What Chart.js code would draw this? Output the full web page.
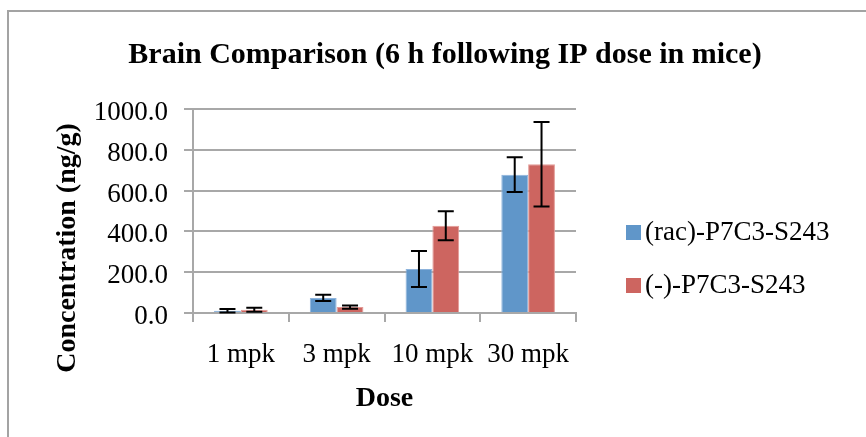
<!DOCTYPE html>
<html>
<head>
<meta charset="utf-8">
<script src="https://cdn.jsdelivr.net/npm/chart.js@4/dist/chart.umd.min.js"></script>
<style>
  html, body { margin: 0; padding: 0; overflow: hidden; background: #fff; }
  #wrap { position: relative; width: 866px; height: 437px; }
  #frame { position: absolute; left: 7px; top: 10px; width: 1000px; height: 1000px;
           border: 2px solid #a3a3a3; pointer-events: none; }
</style>
</head>
<body>
<div id="wrap">
  <canvas id="brainChart" width="866" height="437"></canvas>
  <div id="frame"></div>
</div>
<script>
// values
const doses = ['1 mpk', '3 mpk', '10 mpk', '30 mpk'];
const racValues = [11, 74, 216, 678];
const racErrors = [8, 15, 88, 85];
const negValues = [16, 29, 428, 729];
const negErrors = [10, 8, 71, 207];
const yTicks = [0, 200, 400, 600, 800, 1000];

const chartTitle = 'Brain Comparison (6 h following IP dose in mice)';
const serif = "'Liberation Serif', 'DejaVu Serif', serif";
Chart.defaults.font.family = serif;
Chart.defaults.color = '#000';

// draws the +/- error bars through the y scale
const errorBars = {
    id: 'errorBars',
    afterDatasetsDraw(chart) {
        const ctx = chart.ctx;
        const y = chart.scales.y;
        ctx.save();
        ctx.strokeStyle = '#000';
        ctx.lineWidth = 2;
        chart.data.datasets.forEach((ds, i) => {
            const meta = chart.getDatasetMeta(i);
            meta.data.forEach((bar, j) => {
                const v = ds.data[j], e = ds.errors[j];
                const top = y.getPixelForValue(v + e);
                const bot = y.getPixelForValue(Math.max(v - e, 0));
                const cap = 8;
                ctx.beginPath();
                ctx.moveTo(bar.x, top); ctx.lineTo(bar.x, bot);
                ctx.moveTo(bar.x - cap, top); ctx.lineTo(bar.x + cap, top);
                ctx.moveTo(bar.x - cap, bot); ctx.lineTo(bar.x + cap, bot);
                ctx.stroke();
            });
        });
        ctx.restore();
    }
};

// chart title + y axis title, placed the way Excel does it
const titles = {
    id: 'titles',
    afterDraw(chart) {
        const ctx = chart.ctx;
        ctx.save();
        ctx.fillStyle = '#000';
        ctx.textAlign = 'center';
        ctx.textBaseline = 'middle';
        ctx.font = "bold 30px " + serif;
        ctx.fillText(chartTitle, 445, 55);

        ctx.translate(68, 248);
        ctx.rotate(-Math.PI / 2);
        ctx.font = "bold 28px " + serif;
        ctx.fillText('Concentration (ng/g)', 0, 0);
        ctx.restore();
    }
};

// legend to the right of the plot (built-in one gets squeezed by the layout)
const sideLegend = {
    id: 'sideLegend',
    afterDraw(chart) {
        const ctx = chart.ctx;
        const x0 = chart.chartArea.right + 50;
        ctx.save();
        ctx.font = "27px " + serif;
        ctx.textBaseline = 'middle';
        ctx.textAlign = 'left';
        chart.data.datasets.forEach((ds, i) => {
            const cy = 233 + i * 53;
            ctx.fillStyle = ds.backgroundColor;
            ctx.fillRect(x0, cy - 8, 15, 15);
            ctx.fillStyle = '#000';
            ctx.fillText(ds.label, x0 + 19, cy);
        });
        ctx.restore();
    }
};

const ctx = document.getElementById('brainChart').getContext('2d');
const brainChart = new Chart(ctx, {
    type: 'bar',
    data: {
        labels: doses,
        datasets: [{
            label: '(rac)-P7C3-S243',
            data: racValues,
            errors: racErrors,
            backgroundColor: '#6096C9',
            borderColor: '#8db3dc',
            borderWidth: 1
        }, {
            label: '(-)-P7C3-S243',
            data: negValues,
            errors: negErrors,
            backgroundColor: '#CD6560',
            borderColor: '#e39a96',
            borderWidth: 1
        }]
    },
    options: {
        responsive: false,
        animation: false,
        layout: { padding: { left: 0, right: 290, top: 109, bottom: 24 } },
        datasets: { bar: { categoryPercentage: 0.56, barPercentage: 1.0 } },
        scales: {
            x: {
                grid: { display: true, drawOnChartArea: false, drawTicks: true, tickLength: 9,
                        color: '#a8a8a8', lineWidth: 2 },
                border: { display: true, color: '#a8a8a8', width: 2 },
                ticks: { font: { size: 27 }, padding: 17, maxRotation: 0 },
                title: { display: true, text: 'Dose', font: { size: 28, weight: 'bold', lineHeight: 1.0 },
                         padding: { top: 0, bottom: 0 } },
                afterFit: s => { s.height = 100; }
            },
            y: {
                min: 0,
                max: 1000,
                afterBuildTicks: s => { s.ticks = yTicks.map(v => ({ value: v })); },
                grid: { color: '#a8a8a8', lineWidth: 2, tickLength: 9 },
                border: { display: true, color: '#a8a8a8', width: 2 },
                ticks: { font: { size: 27 }, padding: 16, labelOffset: 4, callback: v => v.toFixed(1) },
                afterFit: s => { s.width = 193; }
            }
        },
        plugins: {
            title: { display: false },
            legend: { display: false },
            tooltip: { enabled: false }
        }
    },
    plugins: [errorBars, titles, sideLegend]
});
</script>
</body>
</html>
